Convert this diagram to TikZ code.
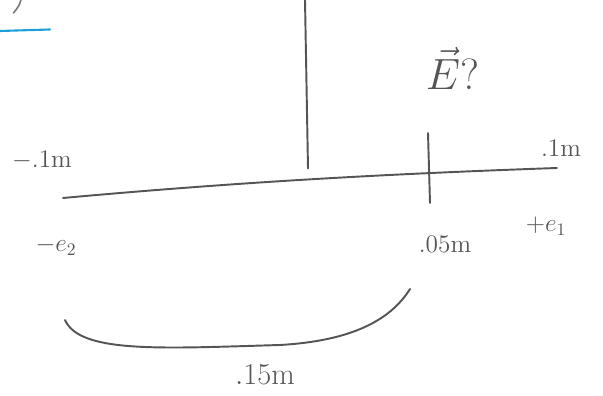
\documentclass[tikz,border=0pt]{standalone}
\usepackage{xcolor}
\definecolor{pencil}{HTML}{555555}
\definecolor{marker}{HTML}{1E9FD8}
\tikzset{
  stroke/.style={pencil, line width=1.1pt, line cap=round},
  lbl/.style={pencil, inner sep=1pt, font=\Large}
}
\begin{document}
\begin{tikzpicture}
                \useasboundingbox (0,0) rectangle (12.06,7.92);
                % Draw the scrap of the heading and its underline
                \draw[stroke, line width=0.9pt, pencil!80] (0.42,7.92) .. controls (0.38,7.8) .. (0.27,7.66);
                \draw[marker, line width=1.2pt, line cap=round] (0,7.30) -- (1.0,7.33);

                % Draw the vertical line and the axis
                \coordinate (top) at (6.10,7.92);
                \coordinate (topend) at (6.16,4.55);
                \coordinate (left) at (1.26,3.96);
                \coordinate (right) at (11.14,4.56);
                \draw[stroke] (top) -- (topend);
                \draw[stroke] (left) .. controls (5,4.30) and (8,4.45) .. (right);

                % Draw the tick at the field point
                \coordinate (ticktop) at (8.56,5.26);
                \coordinate (tickbot) at (8.60,3.86);
                \draw[stroke] (ticktop) -- (tickbot);

                % Labels
                \node[lbl, font=\Huge] (field) at (9.05,6.56) {$\vec{E}$?};
                \node[lbl] (xleft) at (0.84,4.72) {$-.1$m};
                \node[lbl] (xright) at (11.22,4.96) {$.1$m};
                \node[lbl] (qtwo) at (1.12,3.00) {$-e_{2}$};
                \node[lbl] (qone) at (10.92,3.40) {$+e_{1}$};
                \node[lbl] (xpoint) at (8.90,3.04) {$.05$m};

                % Draw the brace under the axis
                \coordinate (bstart) at (1.30,1.52);
                \coordinate (bend) at (8.20,2.14);
                \draw[stroke] (bstart) .. controls (1.6,0.85) and (3.2,0.95) .. (5.6,1.02)
                  .. controls (7.0,1.10) and (7.8,1.5) .. (bend);
                \node[lbl, font=\LARGE] (dist) at (5.30,0.42) {$.15$m};
\end{tikzpicture}
\end{document}
